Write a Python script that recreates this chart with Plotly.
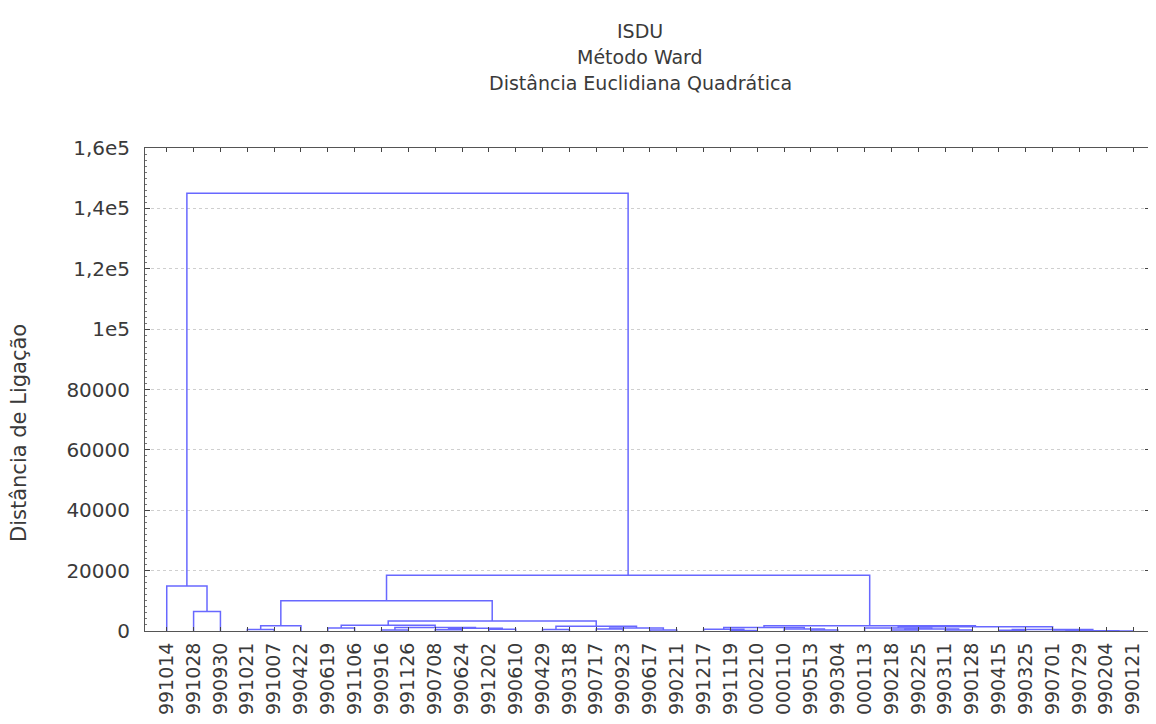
import plotly.graph_objects as go

# ---------------- data ----------------
leaf_labels = ["991014", "991028", "990930", "991021", "991007", "990422", "990619",
               "991106", "990916", "991126", "990708", "990624", "991202", "990610",
               "990429", "990318", "990717", "990923", "990617", "990211", "991217",
               "991119", "000210", "000110", "990513", "990304", "000113", "990218",
               "990225", "990311", "990128", "990415", "990325", "990701", "990729",
               "990204", "990121"]

# merges: children are leaf labels (str) or earlier merge indices (int)
merge_left = ["991021", 0, "990619", "990916", "990708", "991202", 4, 3, 2,
              "990429", "990717", "990617", 10, 9, 8, 1,
              "991119", "991217", "990513", "000110", 17,
              "990218", "990311", 21, "000113", "990701", "990204", 25, "990415", 28, 24,
              20, 15, "991028", "991014", 34]
merge_right = ["991007", "990422", "991106", "991126", "990624", "990610", 5, 6, 7,
               "990318", "990923", "990211", 11, 12, 13, 14,
               "000210", 16, "990304", 18, 19,
               "990225", "990128", 22, 23, "990729", "990121", 26, "990325", 27, 29,
               30, 31, "990930", 33, 32]
merge_height = [500, 1700, 1000, 300, 400, 600, 900, 1200, 1900,
                500, 700, 300, 1000, 1600, 3300, 10000,
                200, 600, 300, 700, 1200,
                300, 350, 700, 1000, 30, 40, 80, 250, 500, 1400,
                1700, 18500, 6500, 14900, 145000]

y_tickvals = [0, 20000, 40000, 60000, 80000, 100000, 120000, 140000, 160000]
y_ticktext = ["0", "20000", "40000", "60000", "80000", "1e5", "1,2e5", "1,4e5", "1,6e5"]

titles = ["ISDU", "Método Ward", "Distância Euclidiana Quadrática"]
y_title = "Distância de Ligação"

# ---------------- build dendrogram lines ----------------
leaf_pos = {lab: i for i, lab in enumerate(leaf_labels)}
mx, mh = [], []


def node(c):
    if isinstance(c, str):
        return leaf_pos[c], 0.0
    return mx[c], mh[c]


xs, ys = [], []
for a, b, h in zip(merge_left, merge_right, merge_height):
    xa, ha = node(a)
    xb, hb = node(b)
    xs += [xa, xa, xb, xb, None]
    ys += [ha, h, h, hb, None]
    mx.append((xa + xb) / 2)
    mh.append(h)

FONT = "DejaVu Sans"
TXT = "#3a3a3a"
W, H = 1156, 724
L, R, T, B = 137, 14, 140, 101
PW, PH = W - L - R, H - T - B

fig = go.Figure()
fig.add_trace(go.Scatter(x=xs, y=ys, mode="lines",
                         line=dict(color="#6868ff", width=1.5),
                         hoverinfo="skip", showlegend=False))

fig.update_layout(
    width=W, height=H,
    margin=dict(l=L, r=R, t=T, b=B, autoexpand=False),
    paper_bgcolor="white", plot_bgcolor="white",
    font=dict(family=FONT, color=TXT),
    showlegend=False,
)

fig.update_xaxes(
    range=[-0.81, 36.63], automargin=False,
    tickvals=list(range(len(leaf_labels))), ticktext=leaf_labels,
    tickangle=-90, tickfont=dict(size=19, color=TXT, family=FONT),
    ticks="inside", ticklen=4, tickcolor="#444",
    showline=True, linecolor="#555", linewidth=1, mirror="ticks",
    showgrid=False, zeroline=False, ticklabelstandoff=3,
)
fig.update_yaxes(
    range=[0, 160000], automargin=False,
    tickvals=y_tickvals, ticktext=y_ticktext,
    tickfont=dict(size=20, color=TXT, family=FONT),
    ticks="inside", ticklen=5, tickcolor="#444",
    minor=dict(dtick=2000, ticks="inside", ticklen=2, tickcolor="#777"),
    showline=True, linecolor="#555", linewidth=1, mirror="ticks",
    showgrid=True, gridcolor="#cfcfcf", griddash="dot", gridwidth=1,
    zeroline=False, ticklabelstandoff=10,
)

# page offset of the rendered figure (body margin) is compensated in pixel placements
OX, OY = 8, 7

# y-axis title placed at its pixel column
fig.add_annotation(text=y_title, xref="paper", yref="paper",
                   x=(19 - OX - L) / PW, y=(H - B - (432 - OY)) / PH,
                   xanchor="center", yanchor="middle", textangle=-90,
                   showarrow=False, font=dict(size=21, color=TXT, family=FONT))

title_px = [30, 56, 82]
for t, py in zip(titles, title_px):
    fig.add_annotation(text=t, xref="paper", yref="paper",
                       x=(640 - OX - L) / PW, y=(H - B - (py - OY)) / PH,
                       xanchor="center", yanchor="middle",
                       showarrow=False, font=dict(size=19, color=TXT, family=FONT))

fig.write_html("out.html")
